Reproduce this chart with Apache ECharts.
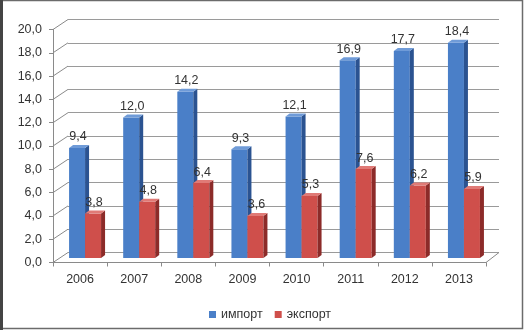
<!DOCTYPE html>
<html><head><meta charset="utf-8">
<script src="https://cdn.jsdelivr.net/npm/echarts@6/dist/echarts.min.js"></script>
<style>html,body{margin:0;padding:0;background:#fff}#c{width:524px;height:330px}</style>
</head><body><div id="c"></div>
<script>
var years = ['2006','2007','2008','2009','2010','2011','2012','2013'];
var importVals = [9.4, 12.0, 14.2, 9.3, 12.1, 16.9, 17.7, 18.4];
var exportVals = [3.8, 4.8, 6.4, 3.6, 5.3, 7.6, 6.2, 5.9];
var seriesNames = ['импорт', 'экспорт'];
var yMin = 0, yMax = 20, yStep = 2;

var FONT = 'Liberation Sans, Arial, sans-serif';
var FS = 12.5;
var TXT = '#333';
var fmt = function (v) { return v.toFixed(1).replace('.', ','); };

var colorsFront = ['#4a7fc8', '#cf4f4b'];
var colorsSide = ['#2b5391', '#8c2b29'];
var colorsTop = ['#6f9bd8', '#e07a76'];

var BW = 16, DX = 4, DY = 3;

function barRender(si) {
  return function (params, api) {
    var idx = api.value(0), val = api.value(1);
    var top = api.coord([idx, val]);
    var base = api.coord([idx, 0]);
    var x0 = si === 0 ? top[0] - BW : top[0];
    var x1 = x0 + BW;
    var yt = top[1], yb = base[1];
    return {
      type: 'group',
      children: [
        { type: 'rect', shape: { x: x0, y: yt, width: BW, height: yb - yt }, style: { fill: colorsFront[si] } },
        { type: 'polygon', shape: { points: [[x1, yt], [x1 + DX, yt - DY], [x1 + DX, yb - DY], [x1, yb]] }, style: { fill: colorsSide[si] } },
        { type: 'polygon', shape: { points: [[x0, yt], [x1, yt], [x1 + DX, yt - DY], [x0 + DX, yt - DY]] }, style: { fill: colorsTop[si] } },
        { type: 'text', style: { text: fmt(val), x: x0 + BW / 2 + 1, y: yt - 11, textAlign: 'center', textVerticalAlign: 'middle', font: FS + 'px ' + FONT, fill: TXT } }
      ]
    };
  };
}

var tickVals = [];
for (var t = yMin; t <= yMax; t += yStep) tickVals.push([0, t]);

var chart = echarts.init(document.getElementById('c'));
chart.setOption({
  animation: false,
  backgroundColor: '#fff',
  graphic: [
    { type: 'rect', shape: { x: 1, y: 0.5, width: 521.5, height: 328 }, style: { fill: 'none', stroke: '#6b6b6b', lineWidth: 1.5 }, z: 100 },
    { type: 'rect', shape: { x: 0, y: 0, width: 3, height: 330 }, style: { fill: '#444' }, z: 100 }
  ],
  legend: {
    data: seriesNames,
    left: 204, top: 303,
    itemWidth: 7, itemHeight: 7, itemGap: 12,
    icon: 'rect',
    textStyle: { fontFamily: FONT, fontSize: FS, color: TXT }
  },
  grid: [
    { left: 53, top: 29.5, width: 433, height: 233 },   // front plane
    { left: 68, top: 19.5, width: 431, height: 233 },   // back wall
    { left: 58, top: 24, width: 433, height: 234 }      // bar plane
  ],
  xAxis: [
    { gridIndex: 0, type: 'category', data: years, boundaryGap: true,
      axisLine: { lineStyle: { color: '#8a8a8a' } },
      axisTick: { show: true, length: 4, lineStyle: { color: '#8a8a8a' } },
      axisLabel: { fontFamily: FONT, fontSize: FS, color: TXT, margin: 11 } },
    { gridIndex: 1, type: 'value', min: 0, max: 1, show: false },
    { gridIndex: 2, type: 'category', data: years, show: false }
  ],
  yAxis: [
    { gridIndex: 0, type: 'value', min: yMin, max: yMax, interval: yStep,
      axisLine: { show: true, lineStyle: { color: '#8a8a8a' } },
      axisTick: { show: true, length: 4, lineStyle: { color: '#8a8a8a' } },
      splitLine: { show: false },
      axisLabel: { fontFamily: FONT, fontSize: FS, color: TXT, margin: 11, formatter: function (v) { return fmt(v); } } },
    { gridIndex: 1, type: 'value', min: yMin, max: yMax, interval: yStep,
      axisLine: { show: false }, axisTick: { show: false }, axisLabel: { show: false },
      splitLine: { show: true, lineStyle: { color: '#9a9a9a', width: 1 } } },
    { gridIndex: 2, type: 'value', min: yMin, max: yMax, show: false, splitLine: { show: false } }
  ],
  series: [
    { type: 'custom', xAxisIndex: 1, yAxisIndex: 1, silent: true, data: tickVals.concat([[1, 0]]), z: 1,
      renderItem: function (params, api) {
        var p = api.coord([api.value(0), api.value(1)]);
        var dx = api.value(0) === 1 ? -13 : -15;
        return { type: 'line', shape: { x1: p[0], y1: p[1], x2: p[0] + dx, y2: p[1] + 10 }, style: { stroke: '#8a8a8a', lineWidth: 1 } };
      } },
    { name: seriesNames[0], type: 'custom', xAxisIndex: 2, yAxisIndex: 2, z: 5,
      itemStyle: { color: colorsFront[0] },
      data: importVals.map(function (v, i) { return [i, v]; }),
      renderItem: barRender(0) },
    { name: seriesNames[1], type: 'custom', xAxisIndex: 2, yAxisIndex: 2, z: 6,
      itemStyle: { color: colorsFront[1] },
      data: exportVals.map(function (v, i) { return [i, v]; }),
      renderItem: barRender(1) }
  ]
});
</script></body></html>
